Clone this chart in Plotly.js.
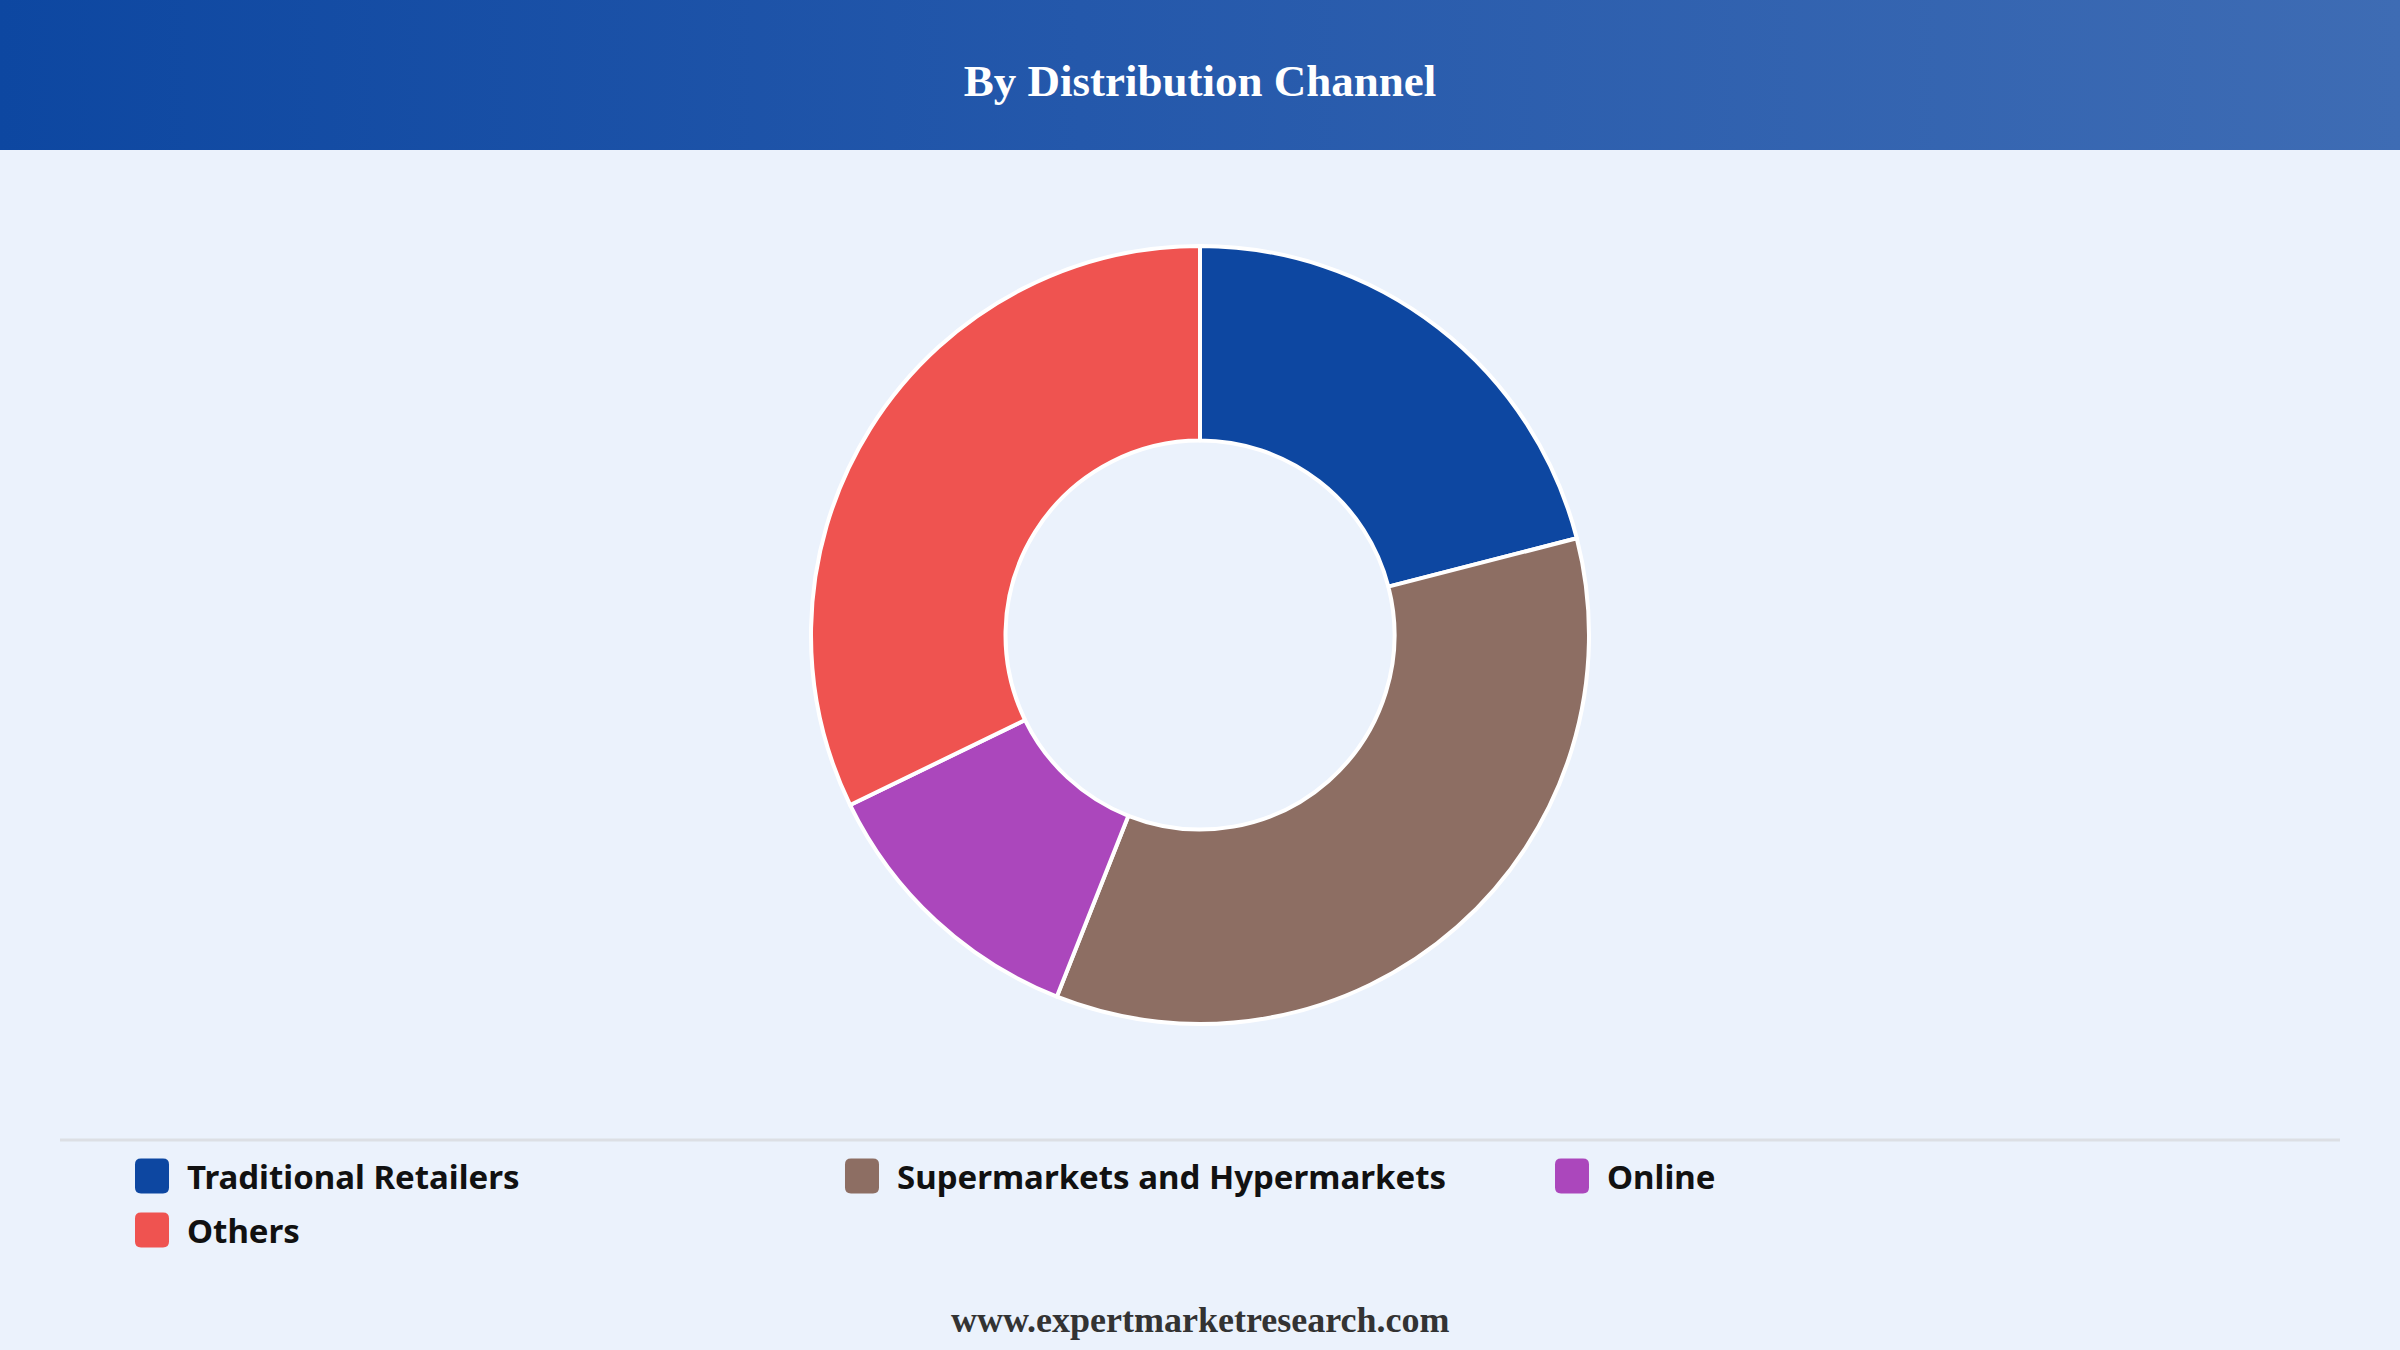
<!DOCTYPE html>
<html>
<head>
<meta charset="utf-8">
<script src="https://cdn.plot.ly/plotly-3.0.1.min.js"></script>
<style>
  html, body { margin: 0; padding: 0; }
  #wrap { position: relative; width: 2400px; height: 1350px; background: #EBF2FC; overflow: hidden; }
  #header { position: absolute; left: 0; top: 0; width: 2400px; height: 150px;
            background: linear-gradient(to right, #0D47A1 0%, #2458AB 45%, #3E6CB4 100%); }
  #chart { position: absolute; left: 0; top: 0; width: 2400px; height: 1350px; }
</style>
</head>
<body>
<div id="wrap">
  <div id="header"></div>
  <div id="chart"></div>
</div>
<script>
// ---- data ----
const chartTitle = "By Distribution Channel";
const categories = ["Traditional Retailers", "Supermarkets and Hypermarkets", "Online", "Others"];
const shares = [21, 35, 11.8, 32.2];
const sliceColors = ["#0D47A1", "#8D6E63", "#AB47BC", "#EF5350"];
const footerText = "www.expertmarketresearch.com";

// ---- layout helpers (pixel -> paper) ----
const W = 2400, H = 1350;
const px = x => x / W;
const py = y => 1 - y / H;

function roundRectPath(x0, y0, w, h, r) {
  const X = v => px(v).toFixed(5), Y = v => py(v).toFixed(5);
  const x1 = x0 + w, y1 = y0 + h;
  return `M ${X(x0 + r)},${Y(y0)} L ${X(x1 - r)},${Y(y0)} Q ${X(x1)},${Y(y0)} ${X(x1)},${Y(y0 + r)} ` +
         `L ${X(x1)},${Y(y1 - r)} Q ${X(x1)},${Y(y1)} ${X(x1 - r)},${Y(y1)} ` +
         `L ${X(x0 + r)},${Y(y1)} Q ${X(x0)},${Y(y1)} ${X(x0)},${Y(y1 - r)} ` +
         `L ${X(x0)},${Y(y0 + r)} Q ${X(x0)},${Y(y0)} ${X(x0 + r)},${Y(y0)} Z`;
}

const colX = [135, 845, 1555];
const rowY = [1176, 1230];
const shapes = [{
  type: "line", xref: "paper", yref: "paper",
  x0: px(60), x1: px(2340), y0: py(1140), y1: py(1140),
  line: { color: "#DCDFE4", width: 3 }
}];
const annotations = [];
categories.forEach((name, i) => {
  const cx = colX[i % 3], cy = rowY[Math.floor(i / 3)];
  shapes.push({
    type: "path", xref: "paper", yref: "paper",
    path: roundRectPath(cx, cy - 17.5, 34, 35, 6),
    fillcolor: sliceColors[i], line: { width: 0 }
  });
  annotations.push({
    xref: "paper", yref: "paper", x: px(cx + 50), y: py(cy),
    xanchor: "left", yanchor: "middle", showarrow: false,
    text: "<b>" + name + "</b>",
    font: { family: "Noto Sans, Open Sans, sans-serif", size: 33, color: "#111111" }
  });
});
annotations.push({
  xref: "paper", yref: "paper", x: 0.5, y: py(1320),
  xanchor: "center", yanchor: "middle", showarrow: false,
  text: "<b>" + footerText + "</b>",
  font: { family: "Liberation Serif, Times New Roman, serif", size: 36, color: "#333333" }
});

const cx = 1200, cy = 635, R = 389;
const trace = {
  type: "pie",
  labels: categories,
  values: shares,
  hole: 0.5,
  sort: false,
  direction: "clockwise",
  rotation: 0,
  textinfo: "none",
  hoverinfo: "label+percent",
  marker: { colors: sliceColors, line: { color: "#FFFFFF", width: 4 } },
  domain: { x: [px(cx - R), px(cx + R)], y: [py(cy + R), py(cy - R)] },
  showlegend: false
};

const layout = {
  width: W, height: H,
  margin: { l: 0, r: 0, t: 0, b: 0 },
  paper_bgcolor: "rgba(0,0,0,0)",
  plot_bgcolor: "rgba(0,0,0,0)",
  title: {
    text: "<b>" + chartTitle + "</b>",
    x: 0.5, xanchor: "center", xref: "paper",
    y: py(80), yanchor: "middle", yref: "paper",
    font: { family: "Liberation Serif, Times New Roman, serif", size: 45, color: "#FFFFFF" }
  },
  showlegend: false,
  shapes: shapes,
  annotations: annotations
};

Plotly.newPlot("chart", [trace], layout, { displayModeBar: false, staticPlot: true });
</script>
</body>
</html>
